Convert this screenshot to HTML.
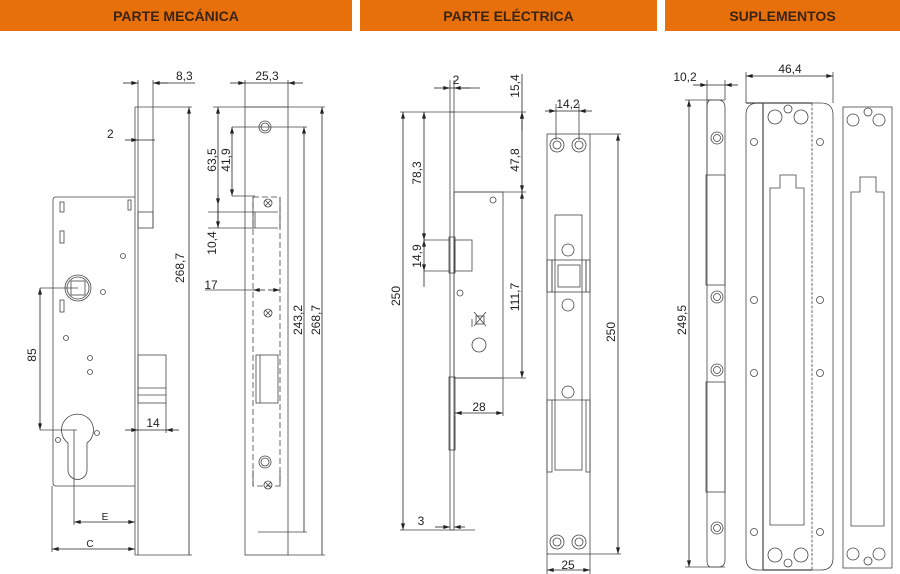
<!DOCTYPE html>
<html><head><meta charset="utf-8"><style>
html,body{margin:0;padding:0;background:#fff;width:900px;height:574px;overflow:hidden}
.h{position:absolute;top:0;height:31px;background:#E8700A;color:#3a2414;font:bold 14px "Liberation Sans",sans-serif;text-align:center;line-height:33px}
svg{position:absolute;left:0;top:0}
text{font-family:"Liberation Sans",sans-serif;font-size:12px;fill:#222}
</style></head><body>
<div class="h" style="left:0;width:352px">PARTE MECÁNICA</div>
<div class="h" style="left:360px;width:297px">PARTE ELÉCTRICA</div>
<div class="h" style="left:665px;width:235px">SUPLEMENTOS</div>
<svg width="900" height="574" viewBox="0 0 900 574">
<defs>
<marker id="a" viewBox="0 0 10 6" refX="10" refY="3" markerWidth="9" markerHeight="5" orient="auto-start-reverse"><path d="M0,0L10,3L0,6z" fill="#222"/></marker>
</defs>
<g fill="none" stroke="#444" stroke-width="0.8">
<!-- Panel 1 side view -->
<line x1="135" y1="107" x2="135" y2="555"/><line x1="138" y1="80" x2="138" y2="555"/>
<line x1="153" y1="80" x2="153" y2="228"/>
<line x1="135" y1="107" x2="192" y2="107"/><line x1="135" y1="555" x2="192" y2="555"/>
<path d="M135,197H56Q53,197 53,200V483Q53,486 56,486H135"/>
<rect x="138" y="212" width="15" height="16"/>
<rect x="138" y="355" width="28" height="48"/><line x1="138" y1="388" x2="166" y2="388"/><line x1="138" y1="395" x2="166" y2="395"/>
<rect x="60" y="202" width="4" height="10"/><rect x="60" y="231" width="4" height="12"/><rect x="60" y="300" width="4" height="12"/><rect x="128" y="200" width="3" height="10"/>
<circle cx="78" cy="288" r="13"/><circle cx="78" cy="288" r="11"/><rect x="71" y="281" width="14" height="14"/>
<path d="M68,443A16,16 0 1 1 87,443V470A9.5,9.5 0 0 1 68,470Z"/>
<circle cx="123" cy="256" r="2.5"/><circle cx="103" cy="292" r="2.5"/><circle cx="66" cy="338" r="2.5"/><circle cx="90" cy="358" r="2.5"/><circle cx="90" cy="372" r="2.5"/><circle cx="58" cy="440" r="2.5"/><circle cx="97" cy="433" r="2.5"/>
<line x1="40" y1="288" x2="78" y2="288"/><line x1="40" y1="430" x2="77" y2="430"/>
<line x1="74" y1="430" x2="74" y2="525"/><line x1="52" y1="486" x2="52" y2="552"/>
<line x1="166" y1="403" x2="166" y2="433"/>
<!-- Panel 1 front faceplate -->
<rect x="245" y="107" width="43" height="448"/>
<line x1="245" y1="80" x2="245" y2="107"/><line x1="288" y1="80" x2="288" y2="107"/>
<line x1="213" y1="107" x2="325" y2="107"/><line x1="288" y1="555" x2="325" y2="555"/>
<line x1="232" y1="127" x2="307" y2="127"/><line x1="258" y1="532" x2="307" y2="532"/>
<circle cx="265" cy="127" r="6"/><circle cx="265" cy="127" r="4"/>
<circle cx="265" cy="462" r="6"/><circle cx="265" cy="462" r="4"/>
<path d="M253,197H280V486H253Z" stroke-dasharray="6,3"/>
<line x1="253" y1="197" x2="253" y2="228"/><line x1="280" y1="197" x2="280" y2="228"/><line x1="253" y1="470" x2="253" y2="486"/><line x1="280" y1="470" x2="280" y2="486"/>
<line x1="208" y1="212" x2="278" y2="212"/><line x1="208" y1="228" x2="278" y2="228"/><line x1="255" y1="212" x2="255" y2="228"/>
<line x1="232" y1="196" x2="255" y2="196"/>
<rect x="256" y="355" width="22" height="48"/><line x1="260" y1="355" x2="260" y2="403"/>
<line x1="205" y1="290" x2="253" y2="290"/>
<!-- Panel 2 side -->
<rect x="450" y="112" width="4" height="418"/>
<rect x="454" y="192" width="49" height="186"/>
<rect x="455" y="240" width="17" height="31"/><rect x="449" y="237" width="6" height="36"/>
<rect x="449" y="377" width="6" height="73"/>
<circle cx="493" cy="200" r="3"/><circle cx="460" cy="293" r="3"/>
<circle cx="479" cy="345" r="7"/><path d="M474,312L486,326M486,312L474,326"/><rect x="476" y="316" width="8" height="8"/><line x1="472" y1="319" x2="472" y2="327"/>
<line x1="400" y1="112" x2="526" y2="112"/><line x1="455" y1="192" x2="526" y2="192"/><line x1="455" y1="378" x2="526" y2="378"/>
<line x1="400" y1="530" x2="475" y2="530"/>
<line x1="450" y1="80" x2="450" y2="112"/><line x1="454" y1="80" x2="454" y2="112"/>
<line x1="424" y1="240" x2="450" y2="240"/><line x1="424" y1="271" x2="450" y2="271"/>
<line x1="503" y1="378" x2="503" y2="416"/><line x1="455" y1="450" x2="455" y2="416"/>
<!-- Strike -->
<rect x="547" y="134" width="43" height="420"/>
<line x1="590" y1="134" x2="621" y2="134"/><line x1="590" y1="554" x2="621" y2="554"/>
<line x1="556" y1="104" x2="556" y2="140"/><line x1="579" y1="104" x2="579" y2="140"/>
<line x1="547" y1="554" x2="547" y2="574"/><line x1="590" y1="554" x2="590" y2="574"/>
<circle cx="557" cy="145" r="7"/><circle cx="557" cy="145" r="4"/><circle cx="579" cy="145" r="7"/><circle cx="579" cy="145" r="4"/>
<circle cx="557" cy="542" r="7"/><circle cx="557" cy="542" r="4"/><circle cx="579" cy="542" r="7"/><circle cx="579" cy="542" r="4"/>
<rect x="555" y="215" width="27" height="255"/>
<rect x="552" y="260" width="34" height="32"/><rect x="558" y="265" width="22" height="22"/>
<rect x="547" y="260" width="5" height="32"/><rect x="586" y="260" width="4" height="32"/>
<rect x="547" y="400" width="5" height="72"/><rect x="586" y="400" width="4" height="72"/>
<line x1="552" y1="400" x2="586" y2="400"/>
<circle cx="568" cy="250" r="6"/><circle cx="568" cy="305" r="6"/><circle cx="568" cy="392" r="6"/>
<!-- Panel 3 profile -->
<path d="M707,100H718Q725,100 725,108V560Q725,567 718,567H711Q707,567 707,560V108Q707,100 711,100"/>
<line x1="725" y1="80" x2="725" y2="100"/><line x1="707" y1="80" x2="707" y2="175"/>
<line x1="685" y1="100" x2="725" y2="100"/><line x1="685" y1="567" x2="725" y2="567"/>
<rect x="706" y="175" width="19" height="110"/><rect x="706" y="382" width="19" height="110"/>
<circle cx="717" cy="138" r="6"/><circle cx="717" cy="138" r="3.5"/><circle cx="717" cy="297" r="6"/><circle cx="717" cy="297" r="3.5"/><circle cx="717" cy="370" r="6"/><circle cx="717" cy="370" r="3.5"/><circle cx="717" cy="528" r="6"/><circle cx="717" cy="528" r="3.5"/>
<!-- middle plate -->
<path d="M758,103H821Q833,103 833,115V558Q833,570 821,570H758Q746,570 746,558V115Q746,103 758,103"/>
<line x1="746" y1="72" x2="746" y2="103"/><line x1="833" y1="72" x2="833" y2="103"/>
<line x1="763" y1="103" x2="763" y2="570" stroke-width="1.2"/><line x1="812" y1="103" x2="812" y2="570" stroke-dasharray="3,1.5"/>
<line x1="746" y1="103" x2="812" y2="103" stroke-width="1.2"/><line x1="763" y1="570" x2="812" y2="570" stroke-width="1.2"/>
<circle cx="754" cy="142" r="3.5"/><circle cx="820" cy="142" r="3.5"/><circle cx="754" cy="300" r="3.5"/><circle cx="820" cy="300" r="3.5"/><circle cx="754" cy="373" r="3.5"/><circle cx="820" cy="373" r="3.5"/><circle cx="754" cy="532" r="3.5"/><circle cx="820" cy="532" r="3.5"/>
<circle cx="775" cy="117" r="7"/><circle cx="801" cy="117" r="7"/><circle cx="788" cy="109" r="4"/>
<circle cx="775" cy="555" r="7"/><circle cx="801" cy="555" r="7"/><circle cx="788" cy="563" r="4"/>
<path d="M770,188H780V175H796V188H804V525H770Z"/>
<!-- right plate -->
<rect x="843" y="107" width="49" height="461"/>
<circle cx="853" cy="120" r="6"/><circle cx="879" cy="120" r="6"/><circle cx="868" cy="112" r="4"/>
<circle cx="853" cy="554" r="6"/><circle cx="879" cy="554" r="6"/><circle cx="868" cy="561" r="4"/>
<path d="M851,192H860V177H876V192H884V526H851Z"/>
</g>
<!-- dimension lines with arrows -->
<g stroke="#222" stroke-width="0.8" fill="none">
<line x1="123" y1="83" x2="138" y2="83" marker-end="url(#a)"/><line x1="168" y1="83" x2="153" y2="83" marker-end="url(#a)"/><line x1="153" y1="83" x2="195" y2="83"/>
<line x1="125" y1="140" x2="138" y2="140" marker-end="url(#a)"/><line x1="155" y1="140" x2="138" y2="140"/>
<line x1="189" y1="115" x2="189" y2="107" marker-end="url(#a)"/><line x1="189" y1="115" x2="189" y2="555"/>
<line x1="40" y1="300" x2="40" y2="288" marker-end="url(#a)"/><line x1="40" y1="300" x2="40" y2="418"/><line x1="40" y1="418" x2="40" y2="430" marker-end="url(#a)"/>
<line x1="125" y1="430" x2="138" y2="430" marker-end="url(#a)"/><line x1="179" y1="430" x2="166" y2="430" marker-end="url(#a)"/><line x1="138" y1="430" x2="166" y2="430"/>
<line x1="105" y1="522" x2="74" y2="522" marker-end="url(#a)"/><line x1="105" y1="522" x2="135" y2="522" marker-end="url(#a)"/>
<line x1="90" y1="549" x2="52" y2="549" marker-end="url(#a)"/><line x1="90" y1="549" x2="135" y2="549" marker-end="url(#a)"/>
<line x1="230" y1="83" x2="245" y2="83" marker-end="url(#a)"/><line x1="303" y1="83" x2="288" y2="83" marker-end="url(#a)"/><line x1="245" y1="83" x2="288" y2="83"/>
<line x1="322" y1="130" x2="322" y2="107" marker-end="url(#a)"/><line x1="322" y1="130" x2="322" y2="555"/>
<line x1="304" y1="140" x2="304" y2="127" marker-end="url(#a)"/><line x1="304" y1="140" x2="304" y2="532"/>
<line x1="218" y1="150" x2="218" y2="107" marker-end="url(#a)"/><line x1="218" y1="150" x2="218" y2="205" marker-end="url(#a)"/>
<line x1="232" y1="160" x2="232" y2="127" marker-end="url(#a)"/><line x1="232" y1="160" x2="232" y2="196" marker-end="url(#a)"/>
<line x1="218" y1="205" x2="218" y2="228" marker-end="url(#a)"/><line x1="218" y1="228" x2="218" y2="195"/>
<line x1="265" y1="290" x2="253" y2="290" marker-end="url(#a)"/><line x1="268" y1="290" x2="280" y2="290" marker-end="url(#a)"/>
<line x1="434" y1="88" x2="450" y2="88" marker-end="url(#a)"/><line x1="470" y1="88" x2="454" y2="88" marker-end="url(#a)"/><line x1="450" y1="88" x2="480" y2="88"/>
<line x1="522" y1="74" x2="522" y2="112"/><line x1="522" y1="130" x2="522" y2="112" marker-end="url(#a)"/>
<line x1="522" y1="150" x2="522" y2="112" marker-end="url(#a)"/><line x1="522" y1="150" x2="522" y2="192" marker-end="url(#a)"/>
<line x1="522" y1="280" x2="522" y2="192" marker-end="url(#a)"/><line x1="522" y1="280" x2="522" y2="378" marker-end="url(#a)"/>
<line x1="403" y1="300" x2="403" y2="112" marker-end="url(#a)"/><line x1="403" y1="300" x2="403" y2="530" marker-end="url(#a)"/>
<line x1="424" y1="170" x2="424" y2="112" marker-end="url(#a)"/><line x1="424" y1="170" x2="424" y2="240" marker-end="url(#a)"/>
<line x1="424" y1="255" x2="424" y2="240" marker-end="url(#a)"/><line x1="424" y1="255" x2="424" y2="271" marker-end="url(#a)"/><line x1="424" y1="271" x2="424" y2="287"/>
<line x1="479" y1="413" x2="455" y2="413" marker-end="url(#a)"/><line x1="479" y1="413" x2="503" y2="413" marker-end="url(#a)"/>
<line x1="435" y1="527" x2="450" y2="527" marker-end="url(#a)"/><line x1="465" y1="527" x2="454" y2="527" marker-end="url(#a)"/>
<line x1="545" y1="111" x2="556" y2="111" marker-end="url(#a)"/><line x1="592" y1="111" x2="579" y2="111" marker-end="url(#a)"/><line x1="556" y1="111" x2="579" y2="111"/>
<line x1="618" y1="340" x2="618" y2="134" marker-end="url(#a)"/><line x1="618" y1="340" x2="618" y2="554" marker-end="url(#a)"/>
<line x1="568" y1="570" x2="547" y2="570" marker-end="url(#a)"/><line x1="568" y1="570" x2="590" y2="570" marker-end="url(#a)"/>
<line x1="693" y1="85" x2="707" y2="85" marker-end="url(#a)"/><line x1="738" y1="85" x2="725" y2="85" marker-end="url(#a)"/><line x1="707" y1="85" x2="725" y2="85"/>
<line x1="689" y1="330" x2="689" y2="100" marker-end="url(#a)"/><line x1="689" y1="330" x2="689" y2="567" marker-end="url(#a)"/>
<line x1="790" y1="76" x2="746" y2="76" marker-end="url(#a)"/><line x1="790" y1="76" x2="833" y2="76" marker-end="url(#a)"/>
</g>
<!-- screws X -->
<g stroke="#444" stroke-width="0.8" fill="none">
<circle cx="268" cy="203" r="4"/><path d="M265,200l6,6M271,200l-6,6"/>
<circle cx="268" cy="313" r="4"/><path d="M265,310l6,6M271,310l-6,6"/>
<circle cx="268" cy="485" r="4"/><path d="M265,482l6,6M271,482l-6,6"/>
</g>
<text x="176" y="80">8,3</text>
<text x="107" y="138">2</text>
<text x="184" y="268" transform="rotate(-90 184 268)" text-anchor="middle">268,7</text>
<text x="36" y="355" transform="rotate(-90 36 355)" text-anchor="middle">85</text>
<text x="153" y="427" text-anchor="middle">14</text>
<text x="105" y="520" text-anchor="middle" font-size="10" style="font-size:10px">E</text>
<text x="90" y="547" text-anchor="middle" style="font-size:10px">C</text>
<text x="267" y="80" text-anchor="middle">25,3</text>
<text x="216" y="160" transform="rotate(-90 216 160)" text-anchor="middle">63,5</text>
<text x="230" y="160" transform="rotate(-90 230 160)" text-anchor="middle">41,9</text>
<text x="216" y="243" transform="rotate(-90 216 243)" text-anchor="middle">10,4</text>
<text x="211" y="289" text-anchor="middle">17</text>
<text x="302" y="320" transform="rotate(-90 302 320)" text-anchor="middle">243,2</text>
<text x="320" y="320" transform="rotate(-90 320 320)" text-anchor="middle">268,7</text>
<text x="456" y="84" text-anchor="middle">2</text>
<text x="519" y="86" transform="rotate(-90 519 86)" text-anchor="middle">15,4</text>
<text x="519" y="160" transform="rotate(-90 519 160)" text-anchor="middle">47,8</text>
<text x="519" y="297" transform="rotate(-90 519 297)" text-anchor="middle">111,7</text>
<text x="400" y="296" transform="rotate(-90 400 296)" text-anchor="middle">250</text>
<text x="421" y="173" transform="rotate(-90 421 173)" text-anchor="middle">78,3</text>
<text x="421" y="256" transform="rotate(-90 421 256)" text-anchor="middle">14,9</text>
<text x="479" y="411" text-anchor="middle">28</text>
<text x="421" y="525" text-anchor="middle">3</text>
<text x="568" y="108" text-anchor="middle">14,2</text>
<text x="615" y="332" transform="rotate(-90 615 332)" text-anchor="middle">250</text>
<text x="568" y="569" text-anchor="middle">25</text>
<text x="685" y="81" text-anchor="middle">10,2</text>
<text x="686" y="320" transform="rotate(-90 686 320)" text-anchor="middle">249,5</text>
<text x="790" y="73" text-anchor="middle">46,4</text>
</svg>
</body></html>
